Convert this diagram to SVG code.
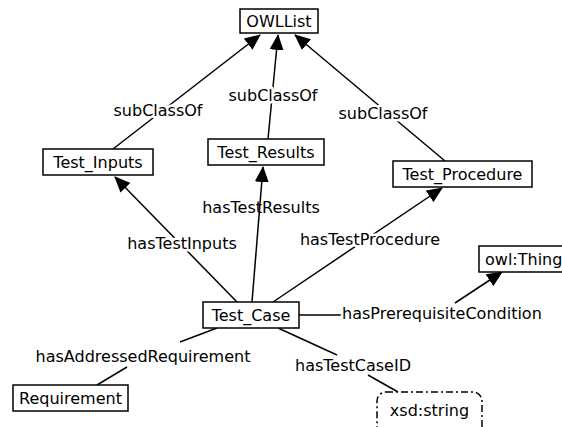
<svg xmlns="http://www.w3.org/2000/svg" width="562" height="427" viewBox="0 0 562 427">
<style>
.box{fill:#fff;stroke:#000;stroke-width:1.5}
.lit{fill:#fff;stroke:#000;stroke-width:1.5;stroke-dasharray:7,3,2,3}
.e{stroke:#000;stroke-width:1.5;fill:none}
text{font-family:"DejaVu Sans",Verdana,sans-serif;font-size:16px;fill:#000}
.c{text-anchor:middle}
.lb{stroke:#fff;stroke-width:5;paint-order:stroke;stroke-linejoin:round}
</style>
<defs>
<marker id="ar" markerWidth="16" markerHeight="14" refX="15" refY="7" orient="auto" markerUnits="userSpaceOnUse">
<path d="M0,0 L16,7 L0,14 Z" fill="#000"/>
</marker>
</defs>
<rect width="562" height="427" fill="#fff"/>
<g id="connectors">
<line class="e" x1="113" y1="149" x2="260" y2="35" marker-end="url(#ar)"/>
<line class="e" x1="268" y1="139" x2="278" y2="35" marker-end="url(#ar)"/>
<line class="e" x1="445" y1="161" x2="295" y2="35" marker-end="url(#ar)"/>
<line class="e" x1="237" y1="302" x2="115" y2="177" marker-end="url(#ar)"/>
<line class="e" x1="273" y1="302" x2="442" y2="188" marker-end="url(#ar)"/>
<line class="e" x1="299" y1="315" x2="342" y2="315"/>
<line class="e" x1="455" y1="303" x2="502" y2="272" marker-end="url(#ar)"/>
<line class="e" x1="217" y1="328" x2="180" y2="342"/>
<line class="e" x1="127" y1="367" x2="97" y2="385"/>
<line class="e" x1="278" y1="328" x2="337" y2="355"/>
<line class="e" x1="368" y1="375" x2="398" y2="392"/>
<text class="c lb" x="158" y="116">subClassOf</text>
<text class="c lb" x="273" y="101">subClassOf</text>
<text class="c lb" x="383" y="119">subClassOf</text>
<text class="c lb" x="182" y="249">hasTestInputs</text>
<text class="c lb" x="370" y="245">hasTestProcedure</text>
<text class="c" x="261" y="213">hasTestResults</text>
<line class="e" x1="252" y1="302" x2="263" y2="167" marker-end="url(#ar)"/>
<text class="lb" x="342" y="319">hasPrerequisiteCondition</text>
<text class="c lb" x="143" y="362">hasAddressedRequirement</text>
<text class="c lb" x="353" y="371">hasTestCaseID</text>
</g>
<g id="OWLList"><rect class="box" x="240" y="9" width="78" height="24"/><text class="c" x="279" y="27">OWLList</text></g>
<g id="Test_Inputs"><rect class="box" x="43" y="149" width="110" height="26"/><text class="c" x="98" y="168">Test_Inputs</text></g>
<g id="Test_Results"><rect class="box" x="208" y="139" width="116" height="26"/><text class="c" x="266" y="158">Test_Results</text></g>
<g id="Test_Procedure"><rect class="box" x="393" y="161" width="139" height="26"/><text class="c" x="462.5" y="180">Test_Procedure</text></g>
<g id="Test_Case"><rect class="box" x="203" y="302" width="96" height="26"/><text class="c" x="251" y="321">Test_Case</text></g>
<g id="Requirement"><rect class="box" x="13" y="385" width="115" height="26"/><text class="c" x="70.5" y="404">Requirement</text></g>
<g id="owl_Thing"><rect class="box" x="479" y="246" width="100" height="26"/><text x="485" y="265">owl:Thing</text></g>
<g id="xsd_string"><rect class="lit" x="377" y="392" width="105" height="46" rx="9"/><text class="c" x="429.5" y="416">xsd:string</text></g>
</svg>
